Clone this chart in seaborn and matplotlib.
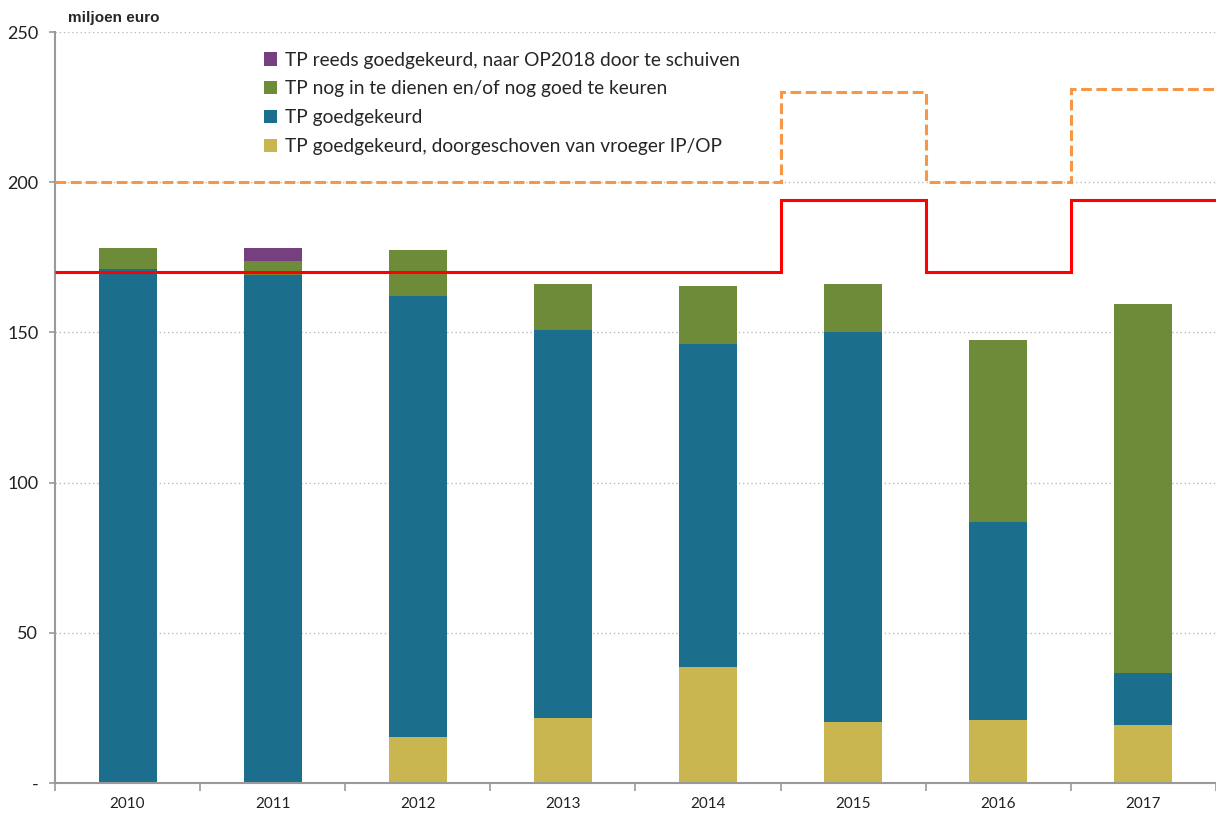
import numpy as np
import pandas as pd
import matplotlib
matplotlib.use("Agg")
import matplotlib.pyplot as plt
from matplotlib.patches import Patch
from matplotlib.ticker import FixedLocator
import seaborn as sns

# Gegevens per jaar (miljoen euro)
jaren = ["2010", "2011", "2012", "2013", "2014", "2015", "2016", "2017"]
doorgeschoven = [0, 0, 15.3, 21.6, 38.6, 20.3, 21.0, 19.2]
goedgekeurd = [171.0, 169.0, 146.8, 129.2, 107.5, 129.8, 65.9, 17.5]
nog_in_te_dienen = [7.0, 4.8, 15.4, 15.3, 19.3, 16.0, 60.6, 122.8]
naar_op2018 = [0, 4.2, 0, 0, 0, 0, 0, 0]
lijn_rood = [170, 170, 170, 170, 170, 194, 170, 194]
lijn_oranje = [200, 200, 200, 200, 200, 230, 200, 231]

labels = ["TP reeds goedgekeurd, naar OP2018 door te schuiven",
          "TP nog in te dienen en/of nog goed te keuren",
          "TP goedgekeurd",
          "TP goedgekeurd, doorgeschoven van vroeger IP/OP"]
kleuren = ["#763F80", "#6E8B3A", "#1B6E8C", "#C9B651"]

df = pd.DataFrame({"jaar": jaren, "geel": doorgeschoven, "blauw": goedgekeurd,
                   "groen": nog_in_te_dienen, "paars": naar_op2018})
df["c1"] = df["geel"]
df["c2"] = df["c1"] + df["blauw"]
df["c3"] = df["c2"] + df["groen"]
df["c4"] = df["c3"] + df["paars"]

sns.set_theme(style="white")
plt.rcParams["font.family"] = ["Lato", "DejaVu Sans"]

fig = plt.figure(figsize=(12.16, 8.13), dpi=100)
ax = fig.add_axes([0.0452, 0.0369, 0.9548, 0.9237])

# gestapelde balken: eerst de totale som, daarna kleinere sommen erover
for kol, kleur in zip(["c4", "c3", "c2", "c1"], kleuren):
    sns.barplot(data=df, x="jaar", y=kol, color=kleur, width=0.4,
                saturation=1, linewidth=0, ax=ax, zorder=2)

randen = np.arange(len(jaren) + 1) - 0.5
ax.stairs(lijn_oranje, randen, baseline=None, color="#F79646", lw=2.2,
          linestyle=(0, (3.5, 1.5)), zorder=3)
ax.stairs(lijn_rood, randen, baseline=None, color="#FF0000", lw=2.2, zorder=3)

ax.set_xlim(-0.5, len(jaren) - 0.5)
ax.set_ylim(0, 250)
ax.set_yticks([0, 50, 100, 150, 200, 250])
ax.set_yticklabels(["-", "50", "100", "150", "200", "250"], fontsize=13,
                   color="#222222")
ax.yaxis.grid(True, linestyle=(0, (1, 2)), color="#BBBBBB", lw=1, zorder=0)
ax.set_xlabel("")
ax.set_ylabel("")

ax.xaxis.set_minor_locator(FixedLocator(randen))
ax.tick_params(axis="x", which="major", length=0, labelsize=11, pad=10,
               labelcolor="#222222")
ax.tick_params(axis="x", which="minor", length=6, width=1.2, color="#999999",
               direction="out", bottom=True)
ax.tick_params(axis="y", length=4, width=1.2, color="#999999", left=True,
               direction="out", pad=8)

for s in ["top", "right"]:
    ax.spines[s].set_visible(False)
for s in ["left", "bottom"]:
    ax.spines[s].set_color("#999999")
    ax.spines[s].set_linewidth(1.5)

ax.text(0.011, 1.01, "miljoen euro", transform=ax.transAxes, fontsize=11,
        fontweight="bold", ha="left", va="bottom", family=["Liberation Sans", "DejaVu Sans"])

handles = [Patch(facecolor=k, edgecolor="none") for k in kleuren]
ax.legend(handles, labels, loc="upper left", bbox_to_anchor=(0.165, 0.997),
          frameon=False, fontsize=13.8, handlelength=0.7, handleheight=0.7,
          handletextpad=0.4, labelspacing=0.62)

fig.savefig("out.png", dpi=100)
